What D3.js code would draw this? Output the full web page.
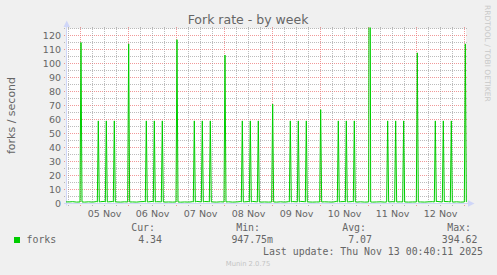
<!DOCTYPE html>
<html>
<head>
<meta charset="utf-8">
<script src="https://cdn.jsdelivr.net/npm/d3@7"></script>
<style>
body{margin:0;background:#f0f0f0;}
svg{display:block;font-family:"DejaVu Sans",sans-serif;}
.mono{font-family:"DejaVu Sans Mono",monospace;}
</style>
</head>
<body>
<svg></svg>
<script>
const chartTitle = 'Fork rate - by week';
const yLabel = 'forks / second';
const yTicks = [0,10,20,30,40,50,60,70,80,90,100,110,120];
const dayLabels = ['2025-11-05','2025-11-06','2025-11-07','2025-11-08','2025-11-09','2025-11-10','2025-11-11','2025-11-12'];
const lastUpdate = '2025-11-13 00:40:11';

// quiet level, one value every 2 hours from 2025-11-04 16:00
const baseline = [
  1.2,1.1,1.3,1.0,
  1.1,1.0,1.2,1.0,1.4,1.3,1.5,1.2,1.4,1.1,1.0,1.2,
  1.0,1.1,1.0,1.3,1.4,1.2,1.5,1.3,1.2,1.0,1.1,1.0,
  1.2,0.95,1.1,1.0,1.3,1.5,1.2,1.4,1.3,1.1,1.0,1.2,
  1.0,1.2,1.0,1.1,1.4,1.2,1.4,1.5,1.2,1.0,1.1,1.0,
  1.1,1.0,1.2,1.0,1.3,1.4,1.2,1.5,1.3,1.1,1.0,1.1,
  1.0,1.2,1.1,1.0,1.5,1.3,1.4,1.2,1.4,1.0,1.2,1.0,
  1.2,1.0,1.1,1.2,1.0,1.4,1.3,1.5,1.2,1.1,1.0,1.1,
  1.0,1.1,1.0,1.2,1.3,1.5,1.2,1.4,1.3,1.0,1.2,1.0,
  1.1
];
const spikeFoot = 1.1;
const spikes = [
  ['2025-11-05 00:10',115],['2025-11-05 08:50',59],['2025-11-05 12:50',59],['2025-11-05 16:50',59],
  ['2025-11-06 00:00',114],['2025-11-06 08:50',59],['2025-11-06 12:50',59],['2025-11-06 16:50',59],
  ['2025-11-07 00:10',117],['2025-11-07 08:50',59],['2025-11-07 12:50',59],['2025-11-07 16:50',59],
  ['2025-11-08 00:10',106],['2025-11-08 08:50',59],['2025-11-08 12:50',59],['2025-11-08 16:50',59],
  ['2025-11-09 00:00',71],['2025-11-09 08:50',59],['2025-11-09 12:50',59],['2025-11-09 16:50',59],
  ['2025-11-10 00:00',67],['2025-11-10 08:50',59],['2025-11-10 12:50',59],['2025-11-10 16:50',59],
  ['2025-11-11 00:30',394.62],['2025-11-11 09:30',59],['2025-11-11 13:30',59],['2025-11-11 17:30',59],
  ['2025-11-12 00:20',107.6],['2025-11-12 09:20',59],['2025-11-12 13:20',59],['2025-11-12 17:20',59],
  ['2025-11-13 00:20',114]
];
const legendHeads = ['Cur:','Min:','Avg:','Max:'];
const legendValues = ['4.34','947.75m','7.07','394.62'];

const W = 497, H = 275;
const green = '#00cc00', axisCol = '#cfd6f8', fontCol = '#666';
const parseMin = d3.timeParse('%Y-%m-%d %H:%M');
const parseSec = d3.timeParse('%Y-%m-%d %H:%M:%S');
const parseDay = d3.timeParse('%Y-%m-%d');
const HOUR = 3600e3;

const end = parseSec(lastUpdate);
const start = new Date(+end - 200 * HOUR);
const pLeft = 66, pRight = 466, pTop = 28.5, pBottom = 203.5;

const x = d3.scaleTime().domain([start, end]).range([pLeft, pRight]);
const y = d3.scaleLinear().domain([0, 125]).range([pBottom, pTop]);
const px = t => Math.floor(x(t)) + 0.5;

// build the line points
const spikeTimes = spikes.map(s => parseMin(s[0]));
const base0 = parseMin('2025-11-04 16:00');
let pts = baseline.map((v, i) => [new Date(+base0 + i * 2 * HOUR), v])
  .filter(p => !spikeTimes.some(t => Math.abs(p[0] - t) < 0.6 * HOUR));
spikes.forEach((s, i) => {
  const t = spikeTimes[i];
  pts.push([new Date(+t - 0.5 * HOUR), spikeFoot]);
  pts.push([t, s[1]]);
  pts.push([new Date(+t + 0.5 * HOUR), spikeFoot]);
});
pts.sort((a, b) => a[0] - b[0]);

const svg = d3.select('svg').attr('width', W).attr('height', H);
svg.append('rect').attr('width', W).attr('height', H).attr('fill', '#f0f0f0');
svg.append('rect').attr('x', pLeft).attr('y', pTop).attr('width', pRight - pLeft).attr('height', pBottom - pTop).attr('fill', '#fff');

// grid
const grid = svg.append('g').attr('stroke-width', 1).attr('stroke-dasharray', '1,1').attr('shape-rendering', 'crispEdges');
const minorY = d3.range(5, 130, 10);
grid.selectAll('.gy').data(minorY).enter().append('line')
  .attr('x1', pLeft - 2).attr('x2', pRight + 2)
  .attr('y1', d => y(d)).attr('y2', d => y(d))
  .attr('stroke', 'rgba(143,143,143,0.6)');
grid.selectAll('.my').data(yTicks).enter().append('line')
  .attr('x1', pLeft - 2).attr('x2', pRight + 2)
  .attr('y1', d => y(d)).attr('y2', d => y(d))
  .attr('stroke', 'rgba(235,110,110,0.7)');
const minorX = d3.timeHour.every(6).range(start, end).filter(d => d.getHours() !== 0);
const majorX = d3.timeDay.range(start, new Date(+end + 1));
grid.selectAll('.gx').data(minorX).enter().append('line')
  .attr('x1', d => px(d)).attr('x2', d => px(d))
  .attr('y1', pTop - 2).attr('y2', pBottom + 2)
  .attr('stroke', 'rgba(143,143,143,0.6)');
grid.selectAll('.mx').data(majorX).enter().append('line')
  .attr('x1', d => px(d)).attr('x2', d => px(d))
  .attr('y1', pTop - 2).attr('y2', pBottom + 2)
  .attr('stroke', 'rgba(235,110,110,0.7)');

// axes lines with arrows
svg.append('line').attr('x1', pLeft + 0.5).attr('x2', pLeft + 0.5).attr('y1', pBottom + 2).attr('y2', 23)
  .attr('stroke', axisCol);
svg.append('path').attr('d', 'M63.5,27 L70,27 L66.75,20.5 Z').attr('fill', axisCol);
svg.append('line').attr('x1', pLeft - 2).attr('x2', 470).attr('y1', pBottom).attr('y2', pBottom)
  .attr('stroke', axisCol);
svg.append('path').attr('d', 'M468,200.25 L468,206.75 L474.5,203.5 Z').attr('fill', axisCol);

// tick labels
svg.append('g').selectAll('text').data(yTicks).enter().append('text')
  .attr('x', 61).attr('y', d => y(d) + 3.4)
  .attr('text-anchor', 'end').attr('font-size', 9.5).attr('fill', fontCol)
  .text(d => d);
const fmtDay = d3.timeFormat('%d %b');
svg.append('g').selectAll('text').data(dayLabels).enter().append('text')
  .attr('x', d => x(new Date(+parseDay(d) + 12 * HOUR)))
  .attr('y', 216.5)
  .attr('text-anchor', 'middle').attr('font-size', 9.5).attr('fill', fontCol)
  .text(d => fmtDay(parseDay(d)));

// series line
svg.append('clipPath').attr('id', 'plot').append('rect')
  .attr('x', pLeft).attr('y', pTop - 1).attr('width', pRight - pLeft + 1).attr('height', pBottom - pTop + 1);
const line = d3.line().x(d => x(d[0])).y(d => y(d[1]));
svg.append('path').datum(pts).attr('d', line)
  .attr('clip-path', 'url(#plot)')
  .attr('fill', 'none').attr('stroke', green).attr('stroke-width', 1);

// titles
svg.append('text').attr('x', 248).attr('y', 24).attr('text-anchor', 'middle')
  .attr('font-size', 12.5).attr('fill', fontCol).text(chartTitle);
svg.append('text').attr('transform', 'translate(15,115.5) rotate(-90)').attr('text-anchor', 'middle')
  .attr('font-size', 11).attr('fill', fontCol).text(yLabel);
svg.append('text').attr('transform', 'translate(485,5) rotate(90)').attr('text-anchor', 'start')
  .attr('font-size', 7.5).attr('fill', '#c8c8c8').text('RRDTOOL / TOBI OETIKER');

// legend
const headX = [155, 260, 366, 471];
const valX = [162, 273, 372, 477.5];
const leg = svg.append('g').attr('class', 'mono').attr('font-size', 9.9).attr('fill', fontCol);
leg.selectAll('.h').data(legendHeads).enter().append('text')
  .attr('x', (d, i) => headX[i]).attr('y', 230.5).attr('text-anchor', 'end').text(d => d);
leg.selectAll('.v').data(legendValues).enter().append('text')
  .attr('x', (d, i) => valX[i]).attr('y', 242.5).attr('text-anchor', 'end').text(d => d);
svg.append('rect').attr('x', 14).attr('y', 237).attr('width', 6).attr('height', 6).attr('fill', green);
leg.append('text').attr('x', 26.5).attr('y', 242.5).text('forks');
leg.append('text').attr('x', 483).attr('y', 255).attr('text-anchor', 'end')
  .text('Last update: ' + d3.timeFormat('%a %b %d %H:%M:%S %Y')(end));
svg.append('text').attr('x', 248).attr('y', 266).attr('text-anchor', 'middle')
  .attr('font-size', 6.8).attr('fill', '#c4c4c4').text('Munin 2.0.75');
</script>
</body>
</html>
